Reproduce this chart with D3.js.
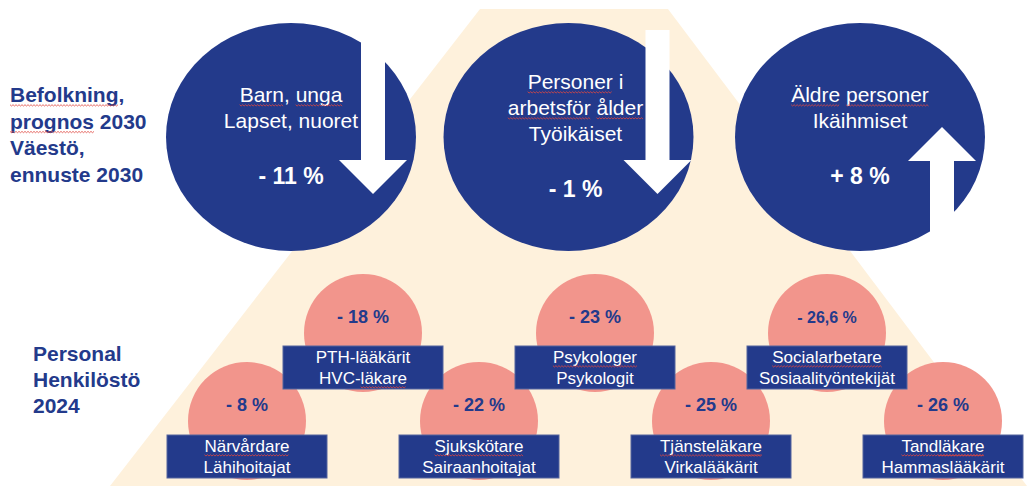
<!DOCTYPE html>
<html>
<head>
<meta charset="utf-8">
<script src="https://cdn.jsdelivr.net/npm/d3@7"></script>
<style>
  body { margin: 0; background: #fff; }
  svg text { font-family: "Liberation Sans", Arial, sans-serif; }
</style>
</head>
<body>
<div id="chart"></div>
<script>
// Population forecast 2030 (three big circles)
const popGroups = [
    ["Barn, unga", "Lapset, nuoret"],
    ["Personer i", "arbetsför ålder", "Työikäiset"],
    ["Äldre personer", "Ikäihmiset"]
];
const popChange = [-11, -1, 8];

// Staff 2024 (pink circles with label boxes)
const staffLine1 = ["Närvårdare", "PTH-lääkärit", "Sjukskötare", "Psykologer", "Tjänsteläkare", "Socialarbetare", "Tandläkare"];
const staffLine2 = ["Lähihoitajat", "HVC-läkare", "Sairaanhoitajat", "Psykologit", "Virkalääkärit", "Sosiaalityöntekijät", "Hammaslääkärit"];
const staffChange = [-8, -18, -22, -23, -25, -26.6, -26];

// Row titles on the left
const popTitle = ["Befolkning,", "prognos 2030", "Väestö,", "ennuste 2030"];
const staffTitle = ["Personal", "Henkilöstö", "2024"];

// words with the spell-check squiggle in the original slide
const flagged = ["Befolkning", "prognos", "Barn", "unga", "Personer", "arbetsför", "ålder", "Äldre", "personer",
    "Närvårdare", "läkare", "Sjukskötare", "Psykologer", "Tjänsteläkare", "Socialarbetare", "Tandläkare"];

const navy = "#233a8b";
const pink = "#f2958c";
const cream = "#fef1dc";

const fmt = v => (v < 0 ? "- " : "+ ") + String(Math.abs(v)).replace(".", ",") + " %";

d3.select("#chart").selectAll("*").remove();

const width = 1027, height = 486;
const svg = d3.select("#chart")
    .append("svg")
    .attr("width", width)
    .attr("height", height);

// draw a little red wave under flagged words of a text line
function squiggle(textNode, str) {
    flagged.forEach(w => {
        const i = str.indexOf(w);
        if (i < 0) return;
        const x0 = textNode.getStartPositionOfChar(i).x;
        const x1 = textNode.getEndPositionOfChar(i + w.length - 1).x;
        const y = textNode.getStartPositionOfChar(i).y + 3;
        const pts = [];
        for (let x = x0, k = 0; x <= x1; x += 1.5, k++) pts.push([x, y + (k % 2 ? 1 : -0.3)]);
        svg.append("path")
            .attr("d", d3.line()(pts))
            .attr("fill", "none")
            .attr("stroke", "#e0463f")
            .attr("stroke-width", 0.8);
    });
}

function addLine(x, y, str, size, weight, color, anchor) {
    const t = svg.append("text")
        .attr("x", x)
        .attr("y", y)
        .attr("text-anchor", anchor || "middle")
        .attr("font-size", size)
        .attr("font-weight", weight)
        .attr("fill", color)
        .text(str);
    squiggle(t.node(), str);
    return t;
}

// cream trapezoid behind everything
svg.append("polygon")
    .attr("points", [[480, 9], [668, 9], [1027, 486], [110, 486]].map(p => p.join(",")).join(" "))
    .attr("fill", cream);

// ---- population row ----
const xPop = d3.scalePoint()
    .domain(d3.range(popGroups.length))
    .range([291, 860]);

const bigCy = 137;

svg.selectAll(".big")
    .data(popChange)
    .enter()
    .append("ellipse")
    .attr("class", "big")
    .attr("cx", (d, i) => xPop(i) - (i === 1 ? 7 : 0))
    .attr("cy", bigCy)
    .attr("rx", 125)
    .attr("ry", 114)
    .attr("fill", navy);

// arrows: down for decline, up for growth
const arrowPath = (cx, up) => {
    const sw = 12, hw = 34;
    if (!up) {
        const top = 30, base = 160, tip = 194;
        return `M${cx - sw},${top}H${cx + sw}V${base}H${cx + hw}L${cx},${tip}L${cx - hw},${base}H${cx - sw}Z`;
    }
    const tip = 127, base = 161, bottom = 232;
    return `M${cx - sw},${bottom}H${cx + sw}V${base}H${cx + hw}L${cx},${tip}L${cx - hw},${base}H${cx - sw}Z`;
};

svg.selectAll(".arrow")
    .data(popChange)
    .enter()
    .append("path")
    .attr("class", "arrow")
    .attr("d", (d, i) => arrowPath(xPop(i) + 82, d > 0))
    .attr("fill", "#fff");

popGroups.forEach((lines, i) => {
    const n = lines.length;
    const y0 = 115 - (n - 1) * 13;
    lines.forEach((s, j) => addLine(xPop(i), y0 + j * 26, s, 21, "normal", "#fff"));
    addLine(xPop(i), y0 + (n - 1) * 26 + 56, fmt(popChange[i]), 23, "bold", "#fff");
});

// ---- staff row ----
const xStaff = d3.scalePoint()
    .domain(d3.range(staffChange.length))
    .range([247, 943]);

const r = 59;
const rowCy = i => (i % 2 ? 333 : 421);
const rowBox = i => (i % 2 ? 346 : 435);

svg.selectAll(".small")
    .data(staffChange)
    .enter()
    .append("circle")
    .attr("class", "small")
    .attr("cx", (d, i) => xStaff(i))
    .attr("cy", (d, i) => rowCy(i))
    .attr("r", r)
    .attr("fill", pink);

staffChange.forEach((v, i) => {
    const lbl = fmt(v);
    addLine(xStaff(i), rowCy(i) - 10, lbl, lbl.length > 6 ? 16 : 18, "bold", navy);
});

svg.selectAll(".box")
    .data(staffChange)
    .enter()
    .append("rect")
    .attr("class", "box")
    .attr("x", (d, i) => xStaff(i) - 80)
    .attr("y", (d, i) => rowBox(i))
    .attr("width", 160)
    .attr("height", 43)
    .attr("fill", navy)
    .attr("stroke", "#55649e")
    .attr("stroke-width", 1);

staffChange.forEach((v, i) => {
    addLine(xStaff(i), rowBox(i) + 17, staffLine1[i], 17, "normal", "#fff");
    addLine(xStaff(i), rowBox(i) + 38, staffLine2[i], 17, "normal", "#fff");
});

// ---- titles on the left ----
popTitle.forEach((s, j) => addLine(10, 102 + j * 26.7, s, 21, "bold", navy, "start"));
staffTitle.forEach((s, j) => addLine(33, 361 + j * 26, s, 21, "bold", navy, "start"));
</script>
</body>
</html>
